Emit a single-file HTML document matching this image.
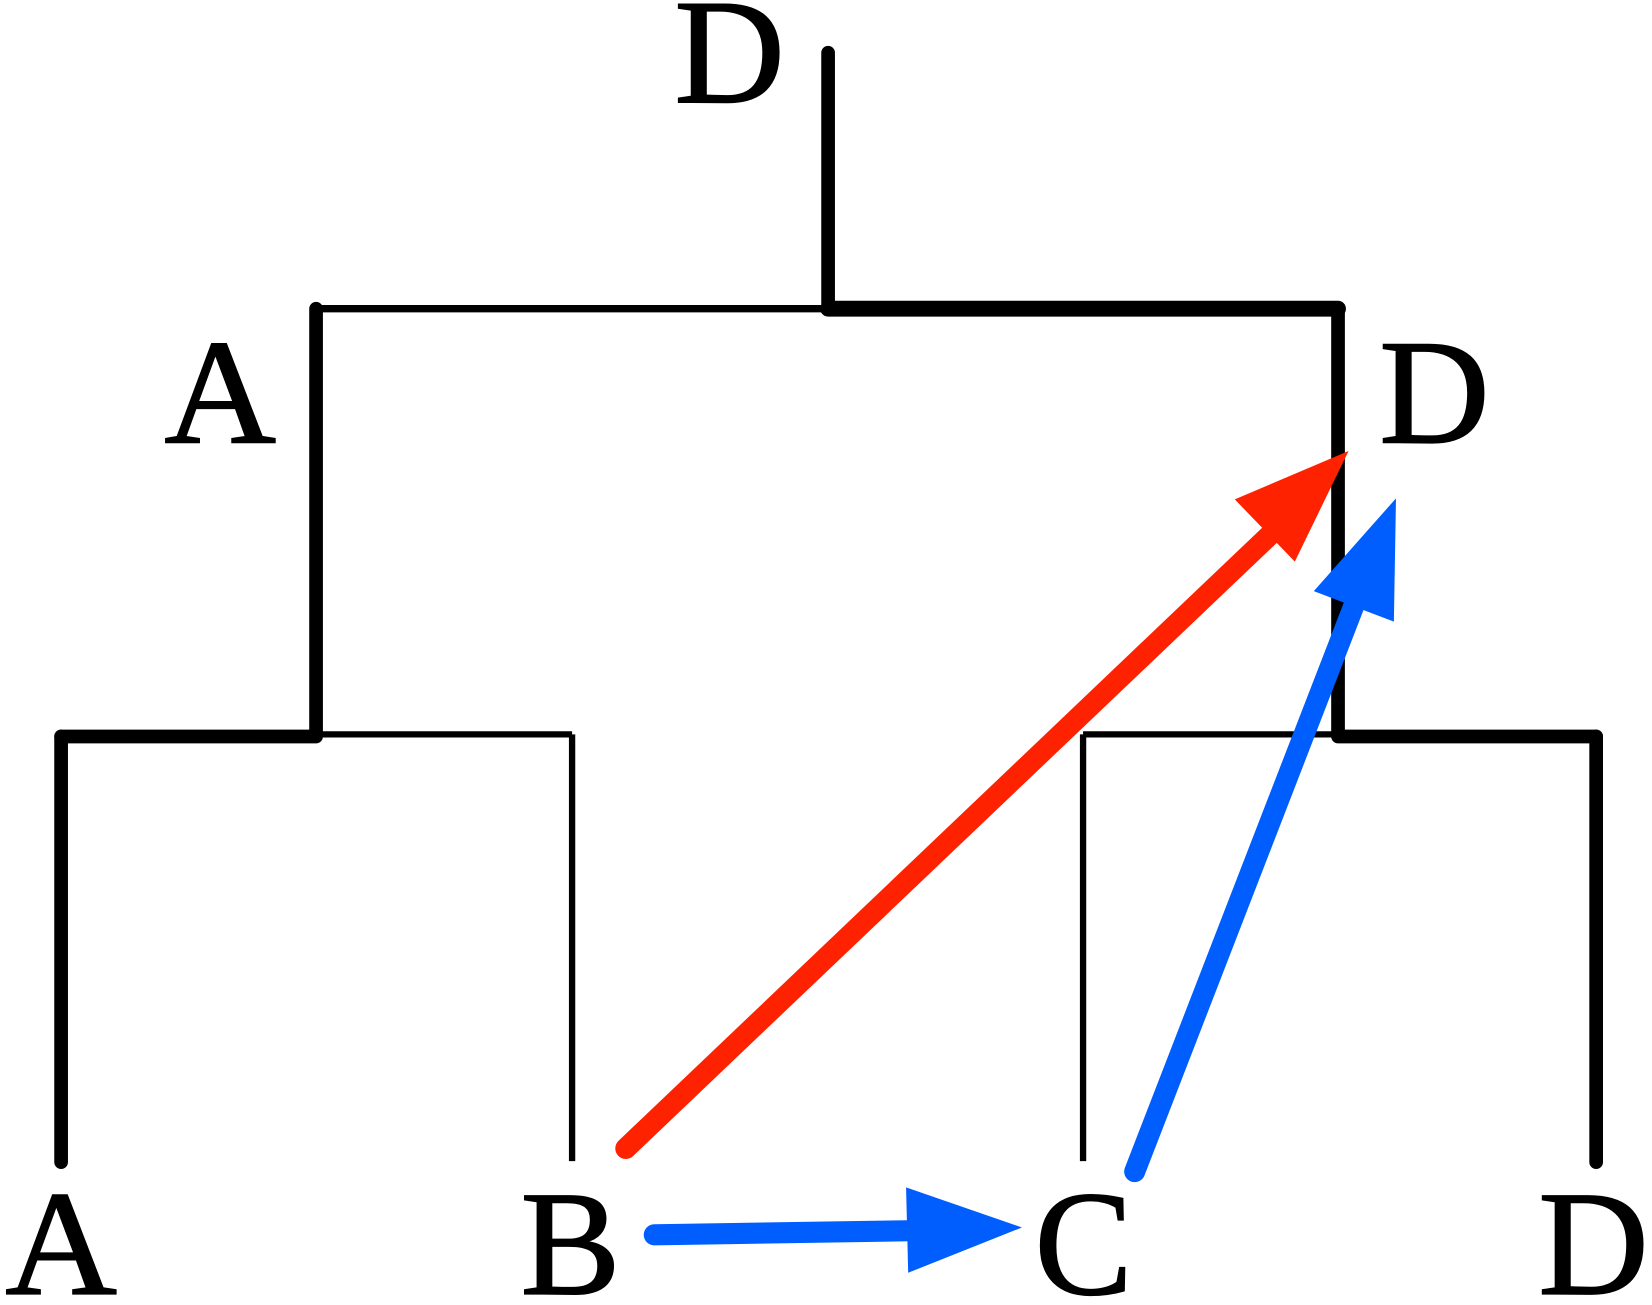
<!DOCTYPE html>
<html><head><meta charset="utf-8"><style>html,body{margin:0;padding:0;background:#fff}svg{display:block}</style></head>
<body>
<svg width="1652" height="1305" viewBox="0 0 1568 1238.6" preserveAspectRatio="none" xmlns="http://www.w3.org/2000/svg">
<g stroke="#000" stroke-linecap="round" fill="none">
<line x1="786" y1="50" x2="786" y2="293" stroke-width="13"/>
<line x1="300" y1="293" x2="786" y2="293" stroke-width="7" stroke-linecap="butt"/>
<line x1="786" y1="293" x2="1270" y2="293" stroke-width="15"/>
<line x1="300" y1="293" x2="300" y2="698" stroke-width="13"/>
<line x1="1270" y1="293" x2="1270" y2="698" stroke-width="13"/>
<line x1="58" y1="699" x2="300" y2="699" stroke-width="13"/>
<line x1="300" y1="697" x2="543" y2="697" stroke-width="6" stroke-linecap="butt"/>
<line x1="1028" y1="697" x2="1270" y2="697" stroke-width="6" stroke-linecap="butt"/>
<line x1="1270" y1="699" x2="1515" y2="699" stroke-width="13"/>
<line x1="58" y1="699" x2="58" y2="1103" stroke-width="13"/>
<line x1="1515" y1="699" x2="1515" y2="1103" stroke-width="13"/>
<line x1="543" y1="697" x2="543" y2="1102" stroke-width="6" stroke-linecap="butt"/>
<line x1="1028" y1="697" x2="1028" y2="1102" stroke-width="6" stroke-linecap="butt"/>
</g>
<g font-family="'Liberation Serif',serif" font-size="142" fill="#000" lengthAdjust="spacingAndGlyphs" stroke="#000" stroke-width="1.5">
<text x="640" y="97" textLength="105" lengthAdjust="spacingAndGlyphs">D</text>
<text x="156" y="420" textLength="106" lengthAdjust="spacingAndGlyphs">A</text>
<text x="1309" y="420" textLength="105" lengthAdjust="spacingAndGlyphs">D</text>
<text x="5" y="1228" textLength="106" lengthAdjust="spacingAndGlyphs">A</text>
<text x="494" y="1228" textLength="95" lengthAdjust="spacingAndGlyphs">B</text>
<text x="982" y="1228" textLength="93" lengthAdjust="spacingAndGlyphs">C</text>
<text x="1460" y="1228" textLength="105" lengthAdjust="spacingAndGlyphs">D</text>
</g>
<line x1="594" y1="1090" x2="1205" y2="508" stroke="#ff2200" stroke-width="20" stroke-linecap="round"/>
<polygon points="1280,428 1172,474 1229,533" fill="#ff2200"/>
<line x1="1077" y1="1112" x2="1285" y2="575" stroke="#005eff" stroke-width="20" stroke-linecap="round"/>
<polygon points="1325,473 1247,561 1323,590" fill="#005eff"/>
<line x1="621" y1="1172" x2="870" y2="1168" stroke="#005eff" stroke-width="20" stroke-linecap="round"/>
<polygon points="970,1165 860,1127 862,1208" fill="#005eff"/>
</svg>
</body></html>
